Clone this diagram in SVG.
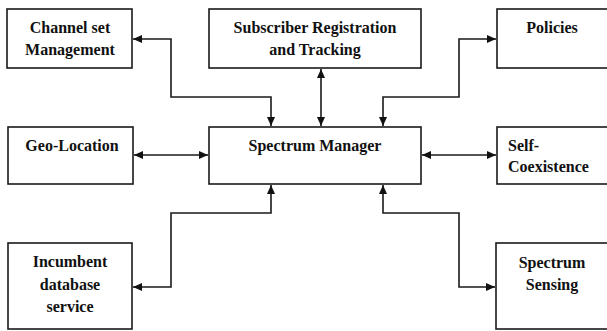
<svg xmlns="http://www.w3.org/2000/svg" width="607" height="331" viewBox="0 0 607 331">
  <style>
    .box { fill: #ffffff; stroke: #1a1a1a; stroke-width: 1.6; }
    .lbl { font-family: "Liberation Serif", "Times New Roman", serif; font-weight: bold; font-size: 16px; fill: #111111; text-anchor: middle; }
    .lft { text-anchor: start; }
    .wire { fill: none; stroke: #1a1a1a; stroke-width: 1.6; marker-start: url(#tip); marker-end: url(#tip); }
  </style>
  <defs>
    <marker id="tip" viewBox="0 0 9 8" refX="9" refY="4" markerWidth="9" markerHeight="8" markerUnits="userSpaceOnUse" orient="auto-start-reverse">
      <path d="M0,0 L9,4 L0,8 Z" fill="#111111"/>
    </marker>
  </defs>
  <rect width="607" height="331" fill="#ffffff"/>

  <g id="channel-set">
    <rect class="box" x="7" y="9" width="125" height="59"/>
    <text class="lbl" x="70" y="33">Channel set</text>
    <text class="lbl" x="70" y="55">Management</text>
  </g>
  <g id="subscriber">
    <rect class="box" x="209" y="9" width="212" height="59"/>
    <text class="lbl" x="315" y="33">Subscriber Registration</text>
    <text class="lbl" x="315" y="55">and Tracking</text>
  </g>
  <g id="policies">
    <rect class="box" x="497" y="9" width="120" height="59"/>
    <text class="lbl" x="552" y="33">Policies</text>
  </g>
  <g id="geo-location">
    <rect class="box" x="8" y="127" width="125" height="57"/>
    <text class="lbl" x="72" y="151">Geo-Location</text>
  </g>
  <g id="spectrum-manager">
    <rect class="box" x="209" y="127" width="212" height="57"/>
    <text class="lbl" x="315" y="151">Spectrum Manager</text>
  </g>
  <g id="self-coexistence">
    <rect class="box" x="497" y="127" width="120" height="57"/>
    <text class="lbl lft" x="508" y="151">Self-</text>
    <text class="lbl lft" x="508" y="172">Coexistence</text>
  </g>
  <g id="incumbent">
    <rect class="box" x="8" y="243" width="124" height="86"/>
    <text class="lbl" x="70" y="267">Incumbent</text>
    <text class="lbl" x="70" y="290">database</text>
    <text class="lbl" x="70" y="312">service</text>
  </g>
  <g id="spectrum-sensing">
    <rect class="box" x="496" y="243" width="120" height="86"/>
    <text class="lbl" x="552" y="268">Spectrum</text>
    <text class="lbl" x="552" y="290">Sensing</text>
  </g>

  <g id="connectors">
    <path class="wire" d="M133,39 H171 V97 H271 V126"/>
    <path class="wire" d="M321,69 V126"/>
    <path class="wire" d="M383,126 V97 H459 V39 H496"/>
    <path class="wire" d="M134,155 H208"/>
    <path class="wire" d="M422,155 H496"/>
    <path class="wire" d="M133,287 H171 V213 H271 V185"/>
    <path class="wire" d="M383,185 V213 H459 V287 H495"/>
  </g>
</svg>
